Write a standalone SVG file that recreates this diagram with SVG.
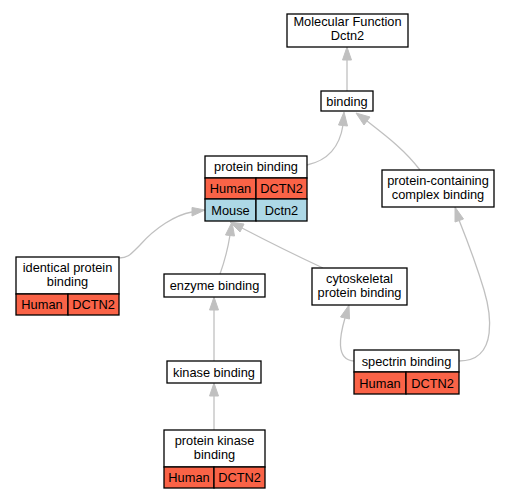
<svg xmlns="http://www.w3.org/2000/svg" width="511" height="499" viewBox="0 0 511 499">
<style>
.n{fill:#fff;stroke:#000;stroke-width:1.3}
.h{fill:#fa6347;stroke:#000;stroke-width:1.3}
.m{fill:#add8e6;stroke:#000;stroke-width:1.3}
text{font-family:"Liberation Sans",Arial,sans-serif;font-size:12.8px;text-anchor:middle;fill:#000}
.e{fill:none;stroke:#c0c0c0;stroke-width:1.3}
.a{fill:#c0c0c0;stroke:#c0c0c0}
</style>
<rect width="511" height="499" fill="#fff"/>
<g id="edges">
<path class="e" d="M347,91 L347,60"/><polygon class="a" points="342.5,60 347,47 351.5,60"/>
<path class="e" d="M307,165 C330,160 340,145 343,125"/><polygon class="a" points="338.5,125 344,112 347.5,126"/>
<path class="e" d="M420,170 C405,150 385,135 367,121"/><polygon class="a" points="364,125 356,113 370,117"/>
<path class="e" d="M119,258 C128,258 130,255 140,245 C155,228 175,215 192,212"/><polygon class="a" points="192,207.5 205,210 192,216"/>
<path class="e" d="M220,274 C225,260 228,248 230,235"/><polygon class="a" points="225.5,235 232,222 234.5,236"/>
<path class="e" d="M323,268 C295,255 265,240 242,228"/><polygon class="a" points="240,232 230,222 244,224"/>
<path class="e" d="M214,361 L214,310"/><polygon class="a" points="209.5,310 214,297 218.5,310"/>
<path class="e" d="M214,430 L214,396"/><polygon class="a" points="209.5,396 214,383 218.5,396"/>
<path class="e" d="M354,361 C335,360 340,335 345,318"/><polygon class="a" points="340.5,317 349,305 349.5,319"/>
<path class="e" d="M459,361 C500,361 490,310 484,290 C475,260 465,235 459,220"/><polygon class="a" points="455,222 455,207 463.5,219"/>
</g>
<g id="mf"><rect class="n" x="287" y="14" width="121" height="33"/><text x="347.5" y="26">Molecular Function</text><text x="347.5" y="40">Dctn2</text></g>
<g id="binding"><rect class="n" x="321" y="91" width="52" height="20"/><text x="347" y="105.5">binding</text></g>
<g id="protein_binding"><rect class="n" x="205" y="156" width="102" height="22"/><text x="256" y="171">protein binding</text>
<rect class="h" x="205" y="178" width="51" height="21"/><rect class="h" x="256" y="178" width="51" height="21"/><text x="230.5" y="193">Human</text><text x="281.5" y="193">DCTN2</text>
<rect class="m" x="205" y="199" width="51" height="22"/><rect class="m" x="256" y="199" width="51" height="22"/><text x="230.5" y="214.5">Mouse</text><text x="281.5" y="214.5">Dctn2</text></g>
<g id="pcb"><rect class="n" x="382" y="170" width="112" height="37"/><text x="438" y="185">protein-containing</text><text x="438" y="199">complex binding</text></g>
<g id="ipb"><rect class="n" x="16" y="257" width="103" height="37"/><text x="67.5" y="272">identical protein</text><text x="67.5" y="286">binding</text>
<rect class="h" x="16" y="294" width="52" height="21"/><rect class="h" x="68" y="294" width="51" height="21"/><text x="42" y="309">Human</text><text x="93.5" y="309">DCTN2</text></g>
<g id="enzyme"><rect class="n" x="164" y="274" width="101" height="23"/><text x="214.5" y="289.5">enzyme binding</text></g>
<g id="cyto"><rect class="n" x="312" y="268" width="95" height="37"/><text x="359.5" y="283">cytoskeletal</text><text x="359.5" y="297">protein binding</text></g>
<g id="kinase"><rect class="n" x="167" y="361" width="94" height="22"/><text x="214" y="376.5">kinase binding</text></g>
<g id="spectrin"><rect class="n" x="354" y="350" width="105" height="22"/><text x="406.5" y="365.5">spectrin binding</text>
<rect class="h" x="354" y="372" width="52" height="22"/><rect class="h" x="406" y="372" width="53" height="22"/><text x="380" y="387.5">Human</text><text x="432.5" y="387.5">DCTN2</text></g>
<g id="pkb"><rect class="n" x="164" y="430" width="101" height="37"/><text x="214.5" y="445">protein kinase</text><text x="214.5" y="459">binding</text>
<rect class="h" x="164" y="467" width="50" height="21"/><rect class="h" x="214" y="467" width="51" height="21"/><text x="189" y="482">Human</text><text x="239.5" y="482">DCTN2</text></g>
</svg>
